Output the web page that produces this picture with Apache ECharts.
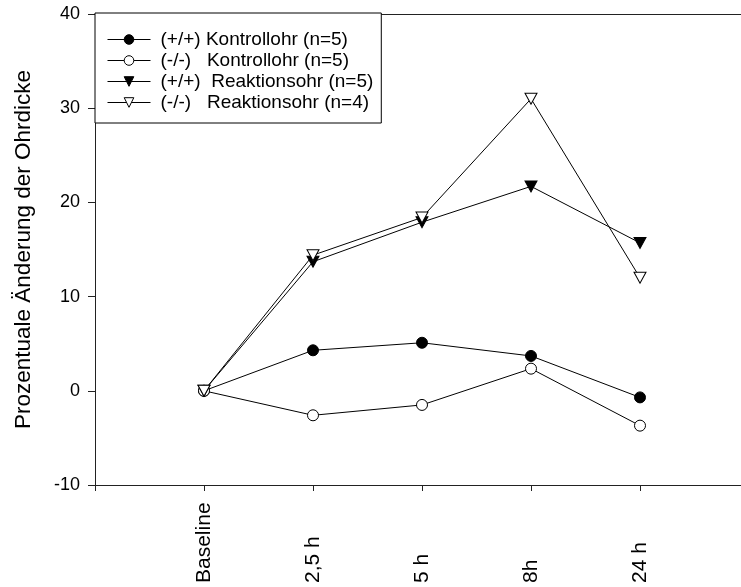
<!DOCTYPE html>
<html><head><meta charset="utf-8">
<script src="https://cdn.jsdelivr.net/npm/echarts@6/dist/echarts.min.js"></script>
<style>html,body{margin:0;padding:0;background:#fff}#c{width:741px;height:587px}</style>
</head><body><div id="c"></div>
<script>
const categories = ['Baseline', '2,5 h', '5 h', '8h', '24 h'];
const seriesNames = ['(+/+) Kontrollohr (n=5)', '(-/-)   Kontrollohr (n=5)', '(+/+)  Reaktionsohr (n=5)', '(-/-)   Reaktionsohr (n=4)'];
const kontrollWT = [0, 4.3, 5.1, 3.7, -0.7];
const kontrollKO = [0, -2.6, -1.5, 2.35, -3.7];
const reaktionWT = [0, 13.7, 17.9, 21.7, 15.7];
const reaktionKO = [0, 14.4, 18.4, 31.0, 12.0];
const yTicks = [-10, 0, 10, 20, 30, 40];

const font = 'Liberation Sans, Arial, sans-serif';
const tri = 'path://M0,0L20,0L10,18Z';
const toPts = arr => arr.map((v, i) => [i + 1, v]);

function mk(name, data, symbol, fill, size) {
  return {
    name, type: 'line', data: toPts(data), symbol, symbolSize: size,
    lineStyle: { color: '#000', width: 1 },
    itemStyle: { color: fill, borderColor: '#000', borderWidth: 1 },
    emphasis: { disabled: true }, animation: false
  };
}

const chart = echarts.init(document.getElementById('c'), null, { renderer: 'canvas' });
chart.setOption({
  animation: false,
  textStyle: { fontFamily: font, color: '#000' },
  grid: { left: 95, right: 0, top: 14, bottom: 102, containLabel: false },
  legend: {
    left: 95, top: 13, orient: 'vertical',
    backgroundColor: '#fff', borderColor: '#000', borderWidth: 1,
    padding: [17, 8, 11, 12], itemGap: 2, itemWidth: 43, itemHeight: 12,
    lineStyle: { width: 1, color: '#000' },
    itemStyle: { borderWidth: 1, borderColor: '#000' },
    textStyle: { fontFamily: font, fontSize: 19, color: '#000', padding: [0, 0, 0, 5] },
    data: seriesNames
  },
  xAxis: [{
    type: 'value', min: 0, max: 646 / 109, interval: 1,
    axisLine: { show: true, onZero: false, lineStyle: { color: '#222', width: 1 } },
    axisTick: { show: true, inside: false, length: 6, lineStyle: { color: '#222' } },
    splitLine: { show: false },
    axisLabel: {
      rotate: 90, align: 'left', verticalAlign: 'middle', margin: 98,
      fontFamily: font, fontSize: 21, color: '#000', showMaxLabel: false,
      formatter: v => (Math.abs(v - Math.round(v)) < 1e-6 && v >= 1 && v <= categories.length) ? categories[Math.round(v) - 1] : ''
    }
  }, {
    type: 'value', position: 'top', min: 0, max: 646 / 109,
    axisLine: { show: true, onZero: false, lineStyle: { color: '#222', width: 1 } },
    axisTick: { show: false }, axisLabel: { show: false }, splitLine: { show: false }
  }],
  yAxis: {
    type: 'value', min: yTicks[0], max: yTicks[yTicks.length - 1], interval: 10,
    name: 'Prozentuale Änderung der Ohrdicke', nameLocation: 'middle', nameGap: 60,
    nameTextStyle: { fontFamily: font, fontSize: 22.5, color: '#000' },
    axisLine: { show: true, lineStyle: { color: '#222', width: 1 } },
    axisTick: { show: true, length: 7, lineStyle: { color: '#222' } },
    splitLine: { show: false },
    axisLabel: { fontFamily: font, fontSize: 18, color: '#000', margin: 15 }
  },
  series: [
    mk(seriesNames[0], kontrollWT, 'circle', '#000', 11),
    mk(seriesNames[1], kontrollKO, 'circle', '#fff', 11),
    mk(seriesNames[2], reaktionWT, tri, '#000', [12, 11]),
    mk(seriesNames[3], reaktionKO, tri, '#fff', [12, 11])
  ]
});
</script></body></html>
